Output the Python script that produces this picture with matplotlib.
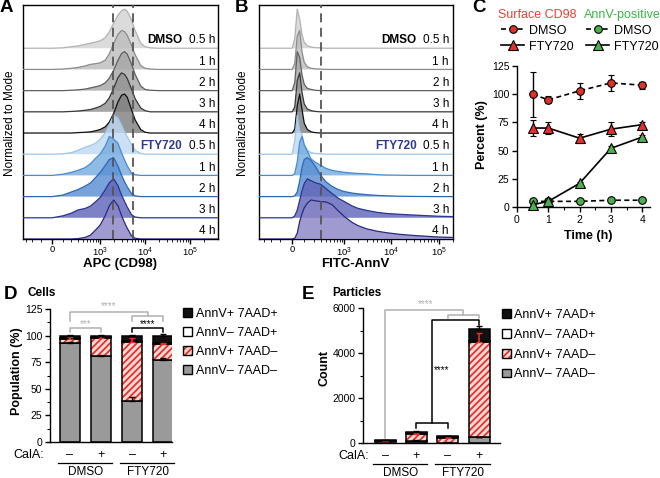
import numpy as np
import matplotlib
matplotlib.use('Agg')
import matplotlib.pyplot as plt
import matplotlib.transforms as mtransforms
from matplotlib.lines import Line2D
from matplotlib.patches import Patch

plt.rcParams['font.family'] = ['Liberation Sans', 'DejaVu Sans']
plt.rcParams['mathtext.fontset'] = 'custom'
plt.rcParams['mathtext.rm'] = 'Liberation Sans'
plt.rcParams['mathtext.it'] = 'Liberation Sans:italic'
plt.rcParams['mathtext.bf'] = 'Liberation Sans:bold'
plt.rcParams['hatch.linewidth'] = 1.3
plt.rcParams['axes.linewidth'] = 1.0

# ---------------- data ----------------
ridge_times = ['0.5 h', '1 h', '2 h', '3 h', '4 h']

# A: APC (CD98) histograms, normalized to mode
apc_x = [-400, 0, 100, 200, 300, 450, 600, 800, 1000, 1300, 1600, 2000, 2500,
         3000, 3500, 4000, 5000, 6000, 8000, 10000, 13000, 20000, 400000]
apc_dmso = [
    [0, 0, 0.01, 0.04, 0.06, 0.10, 0.13, 0.16, 0.19, 0.27, 0.42, 0.64, 0.85, 0.96, 1.0, 0.95, 0.73, 0.46, 0.13, 0.04, 0.01, 0, 0],
    [0, 0, 0.01, 0.03, 0.05, 0.09, 0.13, 0.15, 0.17, 0.24, 0.40, 0.66, 0.90, 1.0, 0.97, 0.88, 0.62, 0.38, 0.10, 0.03, 0.01, 0, 0],
    [0, 0, 0, 0.01, 0.02, 0.04, 0.07, 0.10, 0.13, 0.20, 0.32, 0.52, 0.78, 0.95, 1.0, 0.94, 0.68, 0.42, 0.12, 0.03, 0.01, 0, 0],
    [0, 0, 0, 0.01, 0.02, 0.04, 0.06, 0.10, 0.14, 0.22, 0.36, 0.60, 0.88, 1.0, 0.96, 0.86, 0.58, 0.34, 0.10, 0.03, 0, 0, 0],
    [0, 0, 0, 0, 0.01, 0.02, 0.03, 0.06, 0.09, 0.16, 0.28, 0.50, 0.80, 0.97, 1.0, 0.92, 0.60, 0.34, 0.09, 0.02, 0, 0, 0],
]
apc_fty = [
    [0, 0, 0.01, 0.04, 0.10, 0.18, 0.22, 0.29, 0.38, 0.55, 0.75, 1.0, 0.93, 0.75, 0.58, 0.45, 0.25, 0.10, 0.02, 0, 0, 0, 0],
    [0, 0, 0.03, 0.08, 0.13, 0.20, 0.30, 0.45, 0.55, 0.75, 1.0, 0.93, 0.82, 0.58, 0.40, 0.25, 0.06, 0.02, 0, 0, 0, 0, 0],
    [0, 0, 0.04, 0.12, 0.18, 0.27, 0.35, 0.50, 0.62, 0.80, 0.95, 1.0, 0.78, 0.55, 0.38, 0.25, 0.08, 0.02, 0, 0, 0, 0, 0],
    [0, 0, 0.05, 0.12, 0.20, 0.24, 0.30, 0.42, 0.52, 0.72, 0.90, 1.0, 0.82, 0.58, 0.42, 0.28, 0.08, 0.02, 0, 0, 0, 0, 0],
    [0, 0, 0, 0, 0.01, 0.04, 0.10, 0.24, 0.36, 0.60, 0.85, 1.0, 0.85, 0.60, 0.42, 0.28, 0.08, 0.02, 0, 0, 0, 0, 0],
]
apc_gates = [1900, 5400]

# B: FITC-AnnV histograms
fitc_x = [-400, -100, 0, 20, 40, 60, 80, 100, 130, 170, 220, 300, 400, 550, 750,
          1000, 1500, 2000, 3000, 5000, 8000, 15000, 30000, 100000, 200000]
fitc_dmso = [
    [0, 0, 0, 0.25, 1.0, 0.75, 0.35, 0.15, 0.06, 0.03, 0.015, 0.01, 0, 0, 0, 0, 0, 0, 0, 0, 0, 0, 0, 0, 0],
    [0, 0, 0, 0.15, 0.85, 1.0, 0.45, 0.18, 0.07, 0.03, 0.015, 0.01, 0, 0, 0, 0, 0, 0, 0, 0, 0, 0, 0, 0, 0],
    [0, 0, 0, 0.20, 1.0, 0.85, 0.40, 0.16, 0.06, 0.03, 0.01, 0, 0, 0, 0, 0, 0, 0, 0, 0, 0, 0, 0, 0, 0],
    [0, 0, 0, 0.12, 0.80, 1.0, 0.50, 0.20, 0.07, 0.03, 0.01, 0, 0, 0, 0, 0, 0, 0, 0, 0, 0, 0, 0, 0, 0],
    [0, 0, 0, 0.10, 0.70, 1.0, 0.60, 0.25, 0.09, 0.03, 0.01, 0, 0, 0, 0, 0, 0, 0, 0, 0, 0, 0, 0, 0, 0],
]
fitc_fty = [
    [0, 0, 0, 0.35, 1.0, 0.60, 0.50, 0.25, 0.10, 0.04, 0.02, 0.01, 0, 0, 0, 0, 0, 0, 0, 0, 0, 0, 0, 0, 0],
    [0, 0, 0, 0.05, 0.35, 0.85, 1.0, 0.78, 0.62, 0.42, 0.34, 0.26, 0.18, 0.13, 0.10, 0.08, 0.06, 0.05, 0.04, 0.02, 0.01, 0.005, 0, 0, 0],
    [0, 0, 0, 0.02, 0.12, 0.40, 0.75, 0.95, 1.0, 0.92, 0.78, 0.55, 0.38, 0.26, 0.18, 0.13, 0.09, 0.07, 0.05, 0.03, 0.02, 0.01, 0.005, 0, 0],
    [0, 0, 0, 0.05, 0.20, 0.45, 0.70, 0.88, 1.0, 0.95, 0.90, 0.86, 0.75, 0.62, 0.50, 0.42, 0.30, 0.24, 0.19, 0.14, 0.11, 0.09, 0.07, 0.04, 0.03],
    [0, 0, 0, 0.02, 0.15, 0.45, 0.65, 0.80, 0.92, 1.0, 0.98, 0.96, 0.95, 0.88, 0.72, 0.58, 0.42, 0.34, 0.26, 0.20, 0.16, 0.12, 0.09, 0.05, 0.04],
]
fitc_gates = [300]

# C: time course
time_h = [0.5, 1, 2, 3, 4]
cd98_dmso = [100, 95, 103, 110, 108]
cd98_dmso_err = [20, 3, 7, 7, 3]
cd98_fty = [70, 70, 61, 69, 73]
cd98_fty_err = [7, 5, 4, 6, 2]
annv_dmso = [5, 5, 5, 6, 6]
annv_dmso_err = [1, 1, 1, 1, 1]
annv_fty = [2, 5, 21, 52, 62]
annv_fty_err = [1, 1, 1.5, 2, 2]

# D / E: stacked populations (order: CalA -, CalA + for DMSO then FTY720)
calA = ['\u2013', '+', '\u2013', '+']
groups = ['DMSO', 'FTY720']
pop_labels = ['AnnV+ 7AAD+', 'AnnV\u2013 7AAD+', 'AnnV+ 7AAD\u2013', 'AnnV\u2013 7AAD\u2013']

cells_neg_neg = [93, 81, 39, 77]
cells_neg_neg_err = [1, 1, 3, 1.5]
cells_pos_neg = [4, 17, 55, 15]
cells_pos_neg_err = [2, 1.5, 3.5, 1.5]
cells_neg_pos = [1, 1, 1, 1]
cells_pos_pos = [2, 1, 4.5, 7]
cells_total_err = [0.5, 0.5, 1, 1.5]

part_neg_neg = [15, 100, 20, 250]
part_neg_neg_err = [5, 20, 5, 30]
part_pos_neg = [85, 320, 220, 4250]
part_pos_neg_err = [20, 40, 30, 380]
part_neg_pos = [5, 20, 10, 20]
part_pos_pos = [25, 50, 50, 530]
part_total_err = [20, 40, 30, 150]

# ---------------- figure ----------------
W, H = 660, 478
fig = plt.figure(figsize=(W / 100, H / 100), dpi=100)


def add_ax(l, t, r, b):
    return fig.add_axes([l / W, 1 - b / H, (r - l) / W, (b - t) / H])


def ftext(x, y, s, **kw):
    return fig.text(x / W, 1 - y / H, s, **kw)


dmso_fill = ['#d4d4d4', '#bdbdbd', '#a6a6a6', '#939393', '#808080']
dmso_edge = ['#b2b2b2', '#8c8c8c', '#606060', '#383838', '#101010']
fty_fill = ['#c0daf2', '#76acdf', '#5a8fd2', '#6167ba', '#8a85c6']
fty_edge = ['#9dc6ea', '#4a8ad0', '#2d68b8', '#2b348f', '#29297f']
fty_blue = '#2f3a8f'
peak_h = 1.84


def ridge_panel(ax, xs, dmso, fty, c, xlim, gates, lab_r, lab_g):
    fwd = lambda v: np.arcsinh(np.asarray(v, dtype=float) / c) / np.log(10)
    inv = lambda u: c * np.sinh(np.asarray(u, dtype=float) * np.log(10))
    ax.set_xscale('function', functions=(fwd, inv))
    curves = dmso + fty
    fills = dmso_fill + fty_fill
    edges = dmso_edge + fty_edge
    n = len(curves)
    trans = mtransforms.blended_transform_factory(ax.transAxes, ax.transData)
    for i in range(n):
        base = n - 1 - i
        top = base + peak_h * np.array(curves[i])
        ax.fill_between(xs, base, top, facecolor=fills[i], alpha=0.82, lw=0, zorder=2 + i)
        ax.plot(xs, top, color=edges[i], lw=0.9, zorder=2 + i)
        ax.text(lab_r, base + 0.23, ridge_times[i % 5], transform=trans, ha='right',
                va='baseline', fontsize=8.5, zorder=40)
    ax.text(lab_g, n - 1 + 0.23, 'DMSO', transform=trans, ha='right', va='baseline',
            fontsize=8.5, fontweight='bold', zorder=40)
    ax.text(lab_g, 4 + 0.23, 'FTY720', transform=trans, ha='right', va='baseline',
            fontsize=8.5, fontweight='bold', color=fty_blue, zorder=40)
    for g in gates:
        ax.axvline(g, color='#555555', lw=1.3, dashes=(5, 3), zorder=30)
    ax.set_xlim(*xlim)
    ax.set_ylim(0, 11.04)
    ax.set_yticks([])
    ax.set_xticks([0, 1e3, 1e4, 1e5])
    ax.set_xticklabels(['0', '$10^3$', '$10^4$', '$10^5$'], fontsize=6.8)
    minor = ([-300, -200, -100] + list(range(100, 1000, 100)) + list(range(2000, 10000, 1000))
             + list(range(20000, 100000, 10000)) + [200000])
    ax.set_xticks(minor, minor=True)
    ax.tick_params(axis='x', which='major', length=3.5, width=1, pad=1)
    ax.tick_params(axis='x', which='minor', length=2, width=0.6)


# Panel A
axa = add_ax(23, 5, 218, 239)
ridge_panel(axa, apc_x, apc_dmso, apc_fty, 171, (-357, 4.17e5), apc_gates, 0.985, 0.815)
ftext(120, 264, 'APC (CD98)', ha='center', va='center', fontsize=9.5, fontweight='bold')
ftext(10, 123, 'Normalized to Mode', rotation=90, ha='center', va='center', fontsize=8.5)

# Panel B
axb = add_ax(259, 5, 453, 239)
ridge_panel(axb, fitc_x, fitc_dmso, fitc_fty, 161, (-388, 1.6e5), fitc_gates, 0.979, 0.813)
ftext(355, 264, 'FITC-AnnV', ha='center', va='center', fontsize=9.5, fontweight='bold')
ftext(243, 123, 'Normalized to Mode', rotation=90, ha='center', va='center', fontsize=8.5)

# Panel C
red_m = '#e0312b'
green_m = '#4db04f'
axc = add_ax(517, 66, 650, 207)
axc.errorbar(time_h, annv_dmso, yerr=annv_dmso_err, color='black', ls='--', dashes=(3, 2),
             lw=1.2, marker='o', ms=5.5, mfc=green_m, mec='black', mew=0.8, capsize=2.5,
             elinewidth=1, zorder=3, clip_on=False)
axc.errorbar(time_h, annv_fty, yerr=annv_fty_err, color='black', ls='-', lw=1.2,
             marker='^', ms=6.5, mfc=green_m, mec='black', mew=0.8, capsize=2.5,
             elinewidth=1, zorder=4, clip_on=False)
axc.errorbar(time_h, cd98_fty, yerr=cd98_fty_err, color='black', ls='-', lw=1.2,
             marker='^', ms=6.5, mfc=red_m, mec='black', mew=0.8, capsize=2.5,
             elinewidth=1, zorder=5)
axc.errorbar(time_h, cd98_dmso, yerr=cd98_dmso_err, color='black', ls='--', dashes=(3, 2),
             lw=1.2, marker='o', ms=5.5, mfc=red_m, mec='black', mew=0.8, capsize=2.5,
             elinewidth=1, zorder=6)
axc.set_xlim(0, 4.25)
axc.set_ylim(0, 125)
axc.set_xticks([0, 1, 2, 3, 4])
axc.set_xticks([0.5, 1.5, 2.5, 3.5], minor=True)
axc.set_yticks([0, 25, 50, 75, 100, 125])
axc.spines['top'].set_visible(False)
axc.spines['right'].set_visible(False)
axc.tick_params(labelsize=7.5, length=3.5, width=1, pad=2)
axc.tick_params(which='minor', length=2, width=0.8)
ftext(588, 236, 'Time (h)', ha='center', va='center', fontsize=9, fontweight='bold')
ftext(482, 135, 'Percent (%)', rotation=90, ha='center', va='center', fontsize=9, fontweight='bold')


def c_handles(col):
    h1 = Line2D([], [], color='black', ls='--', dashes=(3, 2), lw=1.2, marker='o', ms=5.5,
                mfc=col, mec='black', mew=0.8)
    h2 = Line2D([], [], color='black', ls='-', lw=1.2, marker='^', ms=6.5,
                mfc=col, mec='black', mew=0.8)
    return [h1, h2]


leg_kw = dict(loc='upper left', frameon=False, fontsize=9, title_fontsize=9,
              handlelength=1.85, handletextpad=0.35, labelspacing=0.3,
              borderpad=0, borderaxespad=0, bbox_transform=fig.transFigure)
leg1 = fig.legend(c_handles(red_m), ['DMSO', 'FTY720'], title='Surface CD98',
                  bbox_to_anchor=(498 / W, 1 - 9 / H), **leg_kw)
leg1.get_title().set_color('#e8403a')
leg2 = fig.legend(c_handles(green_m), ['DMSO', 'FTY720'], title='AnnV-positive',
                  bbox_to_anchor=(584 / W, 1 - 9 / H), **leg_kw)
leg2.get_title().set_color('#3cb44a')

# Panels D / E
gray_c = '#9a9a9a'
black_c = '#111111'
hatch_red = '#e8302a'
pink = '#fbd9d6'


def stacked(ax, nn, nn_err, pn, pn_err, np_, pp, tot_err, bw):
    x = np.arange(4)
    nn = np.array(nn, float)
    pn = np.array(pn, float)
    np_ = np.array(np_, float)
    pp = np.array(pp, float)
    ax.bar(x, nn, bw, facecolor=gray_c, edgecolor='black', lw=1.1, zorder=2)
    ax.bar(x, pn, bw, bottom=nn, facecolor=pink, edgecolor=hatch_red, lw=0, hatch='/////', zorder=2)
    ax.bar(x, pn, bw, bottom=nn, facecolor='none', edgecolor='black', lw=1.1, zorder=3)
    ax.bar(x, np_, bw, bottom=nn + pn, facecolor='white', edgecolor='black', lw=1.1, zorder=3)
    ax.bar(x, pp, bw, bottom=nn + pn + np_, facecolor=black_c, edgecolor='black', lw=1.1, zorder=3)
    z = np.zeros(4)
    ax.errorbar(x, nn, yerr=[z, nn_err], fmt='none', ecolor='black', elinewidth=1, capsize=2.5, zorder=4)
    ax.errorbar(x, nn + pn, yerr=[z, pn_err], fmt='none', ecolor=hatch_red, elinewidth=1.2, capsize=2.5, zorder=4)
    ax.errorbar(x, nn + pn + np_ + pp, yerr=[z, tot_err], fmt='none', ecolor='black',
                elinewidth=1, capsize=2.5, zorder=4, clip_on=False)
    ax.spines['top'].set_visible(False)
    ax.spines['right'].set_visible(False)
    ax.set_xticks([])
    ax.tick_params(axis='y', labelsize=7.5, length=3.5, width=1, pad=2)
    ax.tick_params(axis='y', which='minor', length=2, width=0.8)
    trans = ax.get_xaxis_transform()
    for i in range(4):
        ax.text(i, -0.1, calA[i], transform=trans, ha='center', va='center', fontsize=9)
    for gi, g in enumerate(groups):
        x0, x1 = 2 * gi - 0.39, 2 * gi + 1.35
        ax.plot([x0, x1], [-0.158, -0.158], transform=trans, color='black', lw=0.9, clip_on=False)
        ax.text(2 * gi + 0.5, -0.222, g, transform=trans, ha='center', va='center', fontsize=8.5)


def bracket(ax, x0, x1, y, h0, h1, color, lw=1.1):
    ax.plot([x0, x0, x1, x1], [y - h0, y, y, y - h1], color=color, lw=lw, clip_on=False, zorder=5)


sig_gray = '#b0b0b0'

axd = add_ax(50, 309, 172, 442)
stacked(axd, cells_neg_neg, cells_neg_neg_err, cells_pos_neg, cells_pos_neg_err,
        cells_neg_pos, cells_pos_pos, cells_total_err, 0.645)
axd.set_xlim(-0.645, 3.29)
axd.set_ylim(0, 125)
axd.set_yticks([0, 25, 50, 75, 100, 125])
axd.set_yticks(np.arange(12.5, 125, 25), minor=True)
bracket(axd, 0, 2.5, 121.9, 8, 3.2, sig_gray)
bracket(axd, 2, 3, 118.7, 4.7, 4.7, sig_gray)
axd.text(1.23, 127.5, '****', ha='center', va='center', fontsize=7, color=sig_gray)
bracket(axd, 0, 1, 107, 3.5, 3.5, sig_gray)
axd.text(0.5, 110.5, '***', ha='center', va='center', fontsize=7, color=sig_gray)
bracket(axd, 2, 3, 107, 3.5, 3.5, 'black')
axd.text(2.5, 110.5, '****', ha='center', va='center', fontsize=7, color='black')
ftext(44, 455, 'CalA:', ha='right', va='center', fontsize=9)
ftext(17, 371, 'Population (%)', rotation=90, ha='center', va='center', fontsize=9, fontweight='bold')

axe = add_ax(363, 308, 500, 443)
stacked(axe, part_neg_neg, part_neg_neg_err, part_pos_neg, part_pos_neg_err,
        part_neg_pos, part_pos_pos, part_total_err, 0.67)
axe.set_xlim(-0.703, 3.67)
axe.set_ylim(0, 6000)
axe.set_yticks([0, 2000, 4000, 6000])
axe.set_yticks([1000, 3000, 5000], minor=True)
bracket(axe, 0, 2.5, 5910, 5700, 220, sig_gray)
bracket(axe, 2, 3, 5690, 150, 150, sig_gray)
axe.text(1.3, 6170, '****', ha='center', va='center', fontsize=7, color=sig_gray)
bracket(axe, 1.5, 3, 5467, 4577, 220, 'black')
bracket(axe, 1, 2, 890, 220, 220, 'black')
axe.text(1.57, 3250, '****', ha='left', va='center', fontsize=7, color='black')
ftext(369, 456, 'CalA:', ha='right', va='center', fontsize=9)
ftext(325, 368, 'Count', rotation=90, ha='center', va='center', fontsize=9, fontweight='bold')

# legends for D and E
leg_handles = [
    Patch(facecolor=black_c, edgecolor='black', lw=1),
    Patch(facecolor='white', edgecolor='black', lw=1),
    (Patch(facecolor=pink, edgecolor=hatch_red, lw=0, hatch='/////'),
     Patch(facecolor='none', edgecolor='black', lw=1)),
    Patch(facecolor=gray_c, edgecolor='black', lw=1),
]
bar_leg_kw = dict(loc='upper left', frameon=False, fontsize=9, handlelength=0.7,
                  handleheight=0.7, handletextpad=0.3,
                  borderpad=0, borderaxespad=0, bbox_transform=fig.transFigure)
fig.legend(leg_handles, pop_labels, bbox_to_anchor=(183 / W, 1 - 308 / H),
           labelspacing=0.56, **bar_leg_kw)
fig.legend(leg_handles, pop_labels, bbox_to_anchor=(502 / W, 1 - 309 / H),
           labelspacing=0.62, **bar_leg_kw)

# panel letters and titles
for lx, ly, s in [(0, -1, 'A'), (235, -1, 'B'), (472, -1, 'C'), (4, 286, 'D'), (302, 286, 'E')]:
    ftext(lx, ly, s, ha='left', va='top', fontsize=13.5, fontweight='bold')
ftext(27, 293, 'Cells', ha='left', va='center', fontsize=8.5, fontweight='bold')
ftext(332, 293, 'Particles', ha='left', va='center', fontsize=8.5, fontweight='bold')

fig.savefig('out.png', dpi=100)
